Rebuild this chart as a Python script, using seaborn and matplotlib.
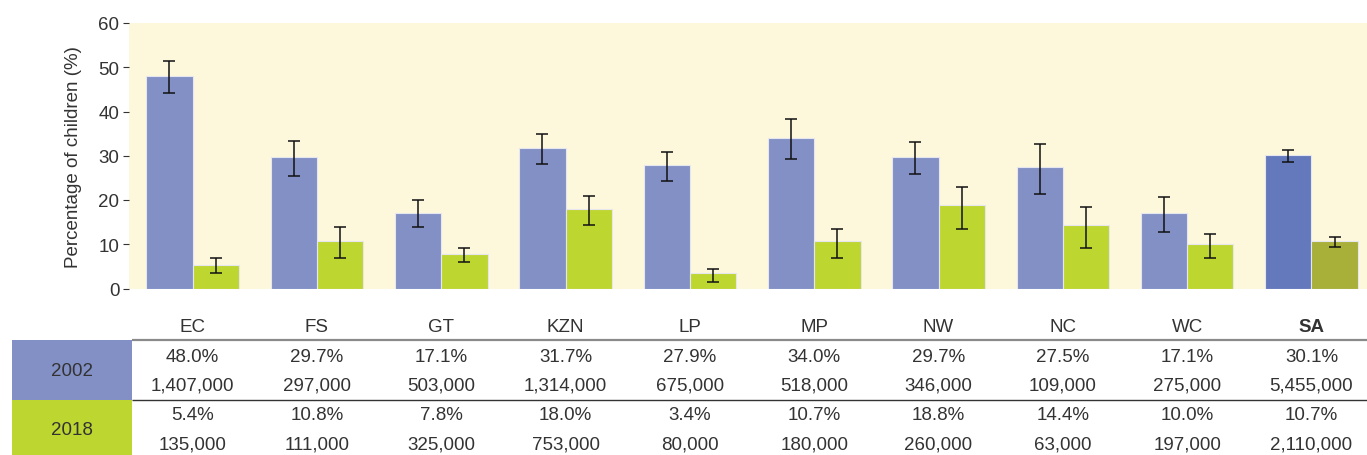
import matplotlib
matplotlib.use("Agg")
import matplotlib.pyplot as plt
import numpy as np
import pandas as pd
import seaborn as sns

# ---- data ----
regions = ["EC", "FS", "GT", "KZN", "LP", "MP", "NW", "NC", "WC", "SA"]
years = ["2002", "2018"]

pct_2002 = [48.0, 29.7, 17.1, 31.7, 27.9, 34.0, 29.7, 27.5, 17.1, 30.1]
pct_2018 = [5.4, 10.8, 7.8, 18.0, 3.4, 10.7, 18.8, 14.4, 10.0, 10.7]

# confidence intervals (lower, upper) estimated from the error bars
lo_2002 = [44.1, 25.5, 13.9, 28.1, 24.4, 29.2, 25.8, 21.4, 12.7, 28.5]
hi_2002 = [51.4, 33.3, 19.9, 34.9, 30.8, 38.3, 33.0, 32.6, 20.6, 31.4]
lo_2018 = [3.4, 6.9, 6.0, 14.3, 1.5, 6.8, 13.5, 9.1, 6.8, 9.3]
hi_2018 = [6.9, 13.9, 9.1, 21.0, 4.5, 13.5, 22.9, 18.4, 12.4, 11.7]

num_2002 = ["1,407,000", "297,000", "503,000", "1,314,000", "675,000",
            "518,000", "346,000", "109,000", "275,000", "5,455,000"]
num_2018 = ["135,000", "111,000", "325,000", "753,000", "80,000",
            "180,000", "260,000", "63,000", "197,000", "2,110,000"]

# ---- styling ----
c2002 = "#8290c6"
c2018 = "#bed630"
c2002_sa = "#6479bc"
c2018_sa = "#a8b03a"
bg = "#fdf7dc"
txt = "#333333"
fs = 13.5

sns.set_style("white")
plt.rcParams["font.family"] = ["Liberation Sans", "DejaVu Sans"]

df = pd.DataFrame({
    "region": regions * 2,
    "year": [years[0]] * len(regions) + [years[1]] * len(regions),
    "pct": pct_2002 + pct_2018,
})

fig = plt.figure(figsize=(13.67, 4.56), dpi=100)
W, H = 1367, 456
ax = fig.add_axes([129 / W, 1 - 289.5 / H, (W - 129) / W, 265.5 / H])

sns.barplot(data=df, x="region", y="pct", hue="year", order=regions,
            palette=[c2002, c2018], saturation=1, width=0.745, errorbar=None,
            edgecolor="#e6e6ee", linewidth=0.8, legend=False, ax=ax)

ax.set_facecolor(bg)
ax.set_xlim(-0.512, 9.447)
ax.set_ylim(0, 60)
ax.set_yticks(range(0, 61, 10))
ax.tick_params(axis="y", left=True, length=4, width=0.8, color=txt,
               labelsize=fs, labelcolor=txt, pad=3)
ax.tick_params(axis="x", bottom=False, labelbottom=False)
ax.set_xlabel("")
ax.set_ylabel("Percentage of children (%)", fontsize=fs, color=txt, labelpad=12)
for s in ax.spines.values():
    s.set_visible(False)

# SA bars darker, and error bars
lows = [lo_2002, lo_2018]
highs = [hi_2002, hi_2018]
vals = [pct_2002, pct_2018]
bar_conts = list(ax.containers)
for k, cont in enumerate(bar_conts):
    for i, bar in enumerate(cont):
        if regions[i] == "SA":
            bar.set_facecolor([c2002_sa, c2018_sa][k])
        xc = bar.get_x() + bar.get_width() / 2
        v = vals[k][i]
        ax.errorbar(xc, v, yerr=[[v - lows[k][i]], [highs[k][i] - v]],
                    fmt="none", ecolor="#111111", elinewidth=1.1,
                    capsize=4.5, capthick=1.1)

# ---- table below ----
tab = fig.add_axes([0, 0, 1, 1 - 300 / H])
x0, x1 = ax.get_xlim()
u = (x1 - x0) / (W - 129)
tab.set_xlim(x0 - 129 * u, x1)
tab.set_ylim(H, 300)
tab.axis("off")

px = lambda p: x0 + (p - 129) * u

tab.add_patch(plt.Rectangle((px(12), 341), px(132) - px(12), 60, color=c2002, lw=0))
tab.add_patch(plt.Rectangle((px(12), 401), px(132) - px(12), 56, color=c2018, lw=0))
tab.text(px(72), 371, years[0], ha="center", va="center", fontsize=fs, color=txt)
tab.text(px(72), 431, years[1], ha="center", va="center", fontsize=fs, color=txt)
tab.plot([px(132), x1], [341, 341], color="#8a8a8a", lw=1.6, solid_capstyle="butt")
tab.plot([px(132), x1], [401, 401], color="#333333", lw=1.0, solid_capstyle="butt")

for i, r in enumerate(regions):
    tab.text(i, 327, r, ha="center", va="center", fontsize=fs, color=txt,
             fontweight="bold" if r == "SA" else "normal")
    tab.text(i, 357, f"{pct_2002[i]:.1f}%", ha="center", va="center", fontsize=fs, color=txt)
    tab.text(i, 386, num_2002[i], ha="center", va="center", fontsize=fs, color=txt)
    tab.text(i, 416, f"{pct_2018[i]:.1f}%", ha="center", va="center", fontsize=fs, color=txt)
    tab.text(i, 445, num_2018[i], ha="center", va="center", fontsize=fs, color=txt)

fig.savefig("out.png", dpi=100)
